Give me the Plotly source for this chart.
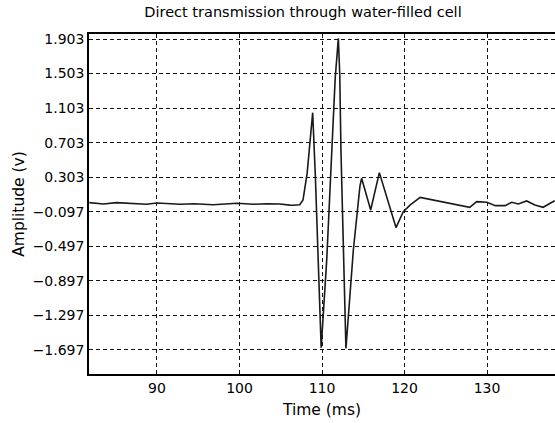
import plotly.graph_objects as go

time_ms = [81.8, 83.5, 85.1, 87.1, 88.7, 90.0, 92.8, 94.5, 96.8, 99.7, 101.7, 103.3,
           104.9, 106.1, 106.5, 107.3, 107.7, 108.2, 108.55, 108.87, 109.2, 109.5,
           109.9, 110.57, 111.2, 111.6, 111.98, 112.15, 112.3, 112.55, 112.9, 113.8,
           114.6, 114.8, 115.9, 116.95, 118.97, 119.85, 120.7, 121.9, 123.5, 125.1,
           126.5, 127.9, 128.75, 130.0, 131.0, 132.2, 133.0, 133.8, 134.8, 135.8,
           136.8, 138.2]
amplitude_v = [0.009, -0.007, 0.009, 0.001, -0.01, 0.005, -0.01, -0.004, -0.015, 0.001,
               -0.01, -0.004, -0.007, -0.02, -0.022, -0.015, 0.04, 0.35, 0.73, 1.05,
               0.3, -0.6, -1.67, -0.66, 0.73, 1.45, 1.91, 1.5, 0.6, -0.5, -1.68, -0.54,
               0.2, 0.29, -0.076, 0.356, -0.28, -0.096, -0.018, 0.07, 0.04, 0.013,
               -0.01, -0.045, 0.02, 0.013, -0.026, -0.026, 0.013, -0.007, 0.028,
               -0.018, -0.045, 0.031]

x_ticks = [90, 100, 110, 120, 130]
y_ticks = [1.903, 1.503, 1.103, 0.703, 0.303, -0.097, -0.497, -0.897, -1.297, -1.697]
y_ticktext = [("\u2212%.3f" % -v) if v < 0 else ("%.3f" % v) for v in y_ticks]

title_text = "Direct transmission through water-filled cell"
x_title = "Time (ms)"
y_title = "Amplitude (v)"

font_family = "DejaVu Sans, sans-serif"

fig = go.Figure()
fig.add_trace(go.Scatter(x=time_ms, y=amplitude_v, mode="lines",
                         line=dict(color="#1a1a1a", width=1.6), showlegend=False))

fig.update_layout(
    width=555, height=423,
    margin=dict(l=89, r=0, t=34, b=49),
    paper_bgcolor="white", plot_bgcolor="white",
    font=dict(family=font_family, size=14, color="black"),
    title=dict(text=title_text, x=303 / 555, xanchor="center", xref="container",
               y=1 - 12 / 423, yanchor="middle", yref="container",
               font=dict(size=14.5, family=font_family, color="black")),
    xaxis=dict(range=[81.76, 138.24], tickvals=x_ticks, ticktext=[str(t) for t in x_ticks],
               showgrid=True, gridcolor="#111111", gridwidth=1, griddash="4px,3px",
               showline=True, linecolor="black", linewidth=1.5, mirror=True,
               ticks="", zeroline=False,
               title=dict(text=x_title, font=dict(size=15.5), standoff=10),
               tickfont=dict(size=14)),
    yaxis=dict(range=[-1.975, 1.961], tickvals=y_ticks, ticktext=y_ticktext,
               showgrid=True, gridcolor="#111111", gridwidth=1, griddash="4px,3px",
               showline=True, linecolor="black", linewidth=1.5, mirror=False,
               ticks="", zeroline=False,
               title=dict(text=y_title, font=dict(size=15.5), standoff=4),
               tickfont=dict(size=14)),
)

fig.write_html("out.html")
